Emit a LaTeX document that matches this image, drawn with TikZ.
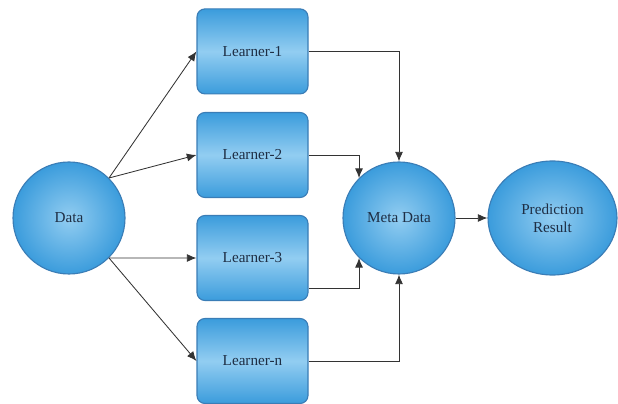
\documentclass[tikz,border=0pt]{standalone}
\usepackage{fontspec}
\setmainfont{Liberation Serif}
\usetikzlibrary{shapes.geometric,arrows.meta}
\definecolor{edgeblue}{HTML}{3A7DB6}
\definecolor{lightblue}{HTML}{92CDF1}
\definecolor{deepblue}{HTML}{3B9CDC}
\definecolor{inkblue}{HTML}{1E2E44}
\begin{document}
\begin{tikzpicture}[every node/.style={font=\fontsize{10.8}{13}\selectfont,text=inkblue},
  ball/.style={circle,draw=edgeblue,thick,shading=radial,inner color=lightblue,outer color=deepblue,minimum size=2.8cm,align=center},
  learner/.style={rectangle,rounded corners=0.2cm,draw=edgeblue,thick,top color=deepblue,bottom color=deepblue,middle color=lightblue,minimum width=2.775cm,minimum height=2.125cm},
  arr/.style={-{Latex[length=2.4mm,width=2mm]},line width=0.6pt,draw=black!80}]
\useasboundingbox (0,0) rectangle (15.45,10.075);
\node[ball] (data) at (1.725,4.625) {Data};
\node[learner] (l1) at (6.3125,8.79) {Learner-1};
\node[learner] (l2) at (6.3125,6.2) {Learner-2};
\node[learner] (l3) at (6.3125,3.625) {Learner-3};
\node[learner] (ln) at (6.3125,1.05) {Learner-n};
\node[ball] (meta) at (9.975,4.625) {Meta Data};
\node[ball,ellipse,minimum width=3.225cm,minimum height=2.85cm] (pred) at (13.8125,4.625) {Prediction\\Result};
\draw[arr] (data.45) -- (l1.west);
\draw[arr] (data.45) -- (l2.west);
\draw[arr] (data.-45) -- (l3.west);
\draw[arr] (data.-45) -- (ln.west);
\draw[arr] (l1.east) -| (meta.north);
\draw[arr] (l2.east) -| (meta.135);
\draw[arr] ([yshift=-0.75cm]l3.east) -| (meta.-135);
\draw[arr] (ln.east) -| (meta.south);
\draw[arr] (meta.east) -- (pred.west);
\end{tikzpicture}
\end{document}
